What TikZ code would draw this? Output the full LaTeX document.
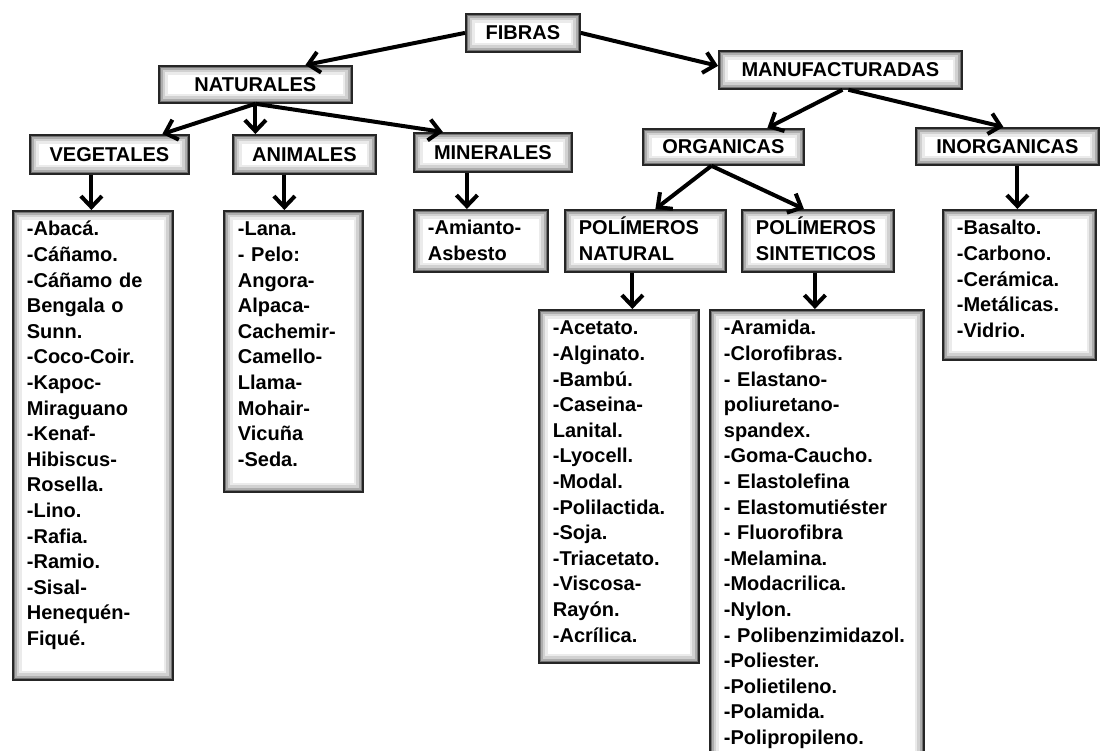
\documentclass[tikz,border=0pt]{standalone}
\usepackage{fontspec}
\setmainfont{Liberation Sans}
\usetikzlibrary{arrows.meta}

\tikzset{
  caja/.style={draw=black!85, line width=1.8pt, fill=white, anchor=north west, inner sep=0pt,
    path picture={
      \foreach \w/\gr in {18pt/8, 13pt/18, 8pt/32, 4pt/55}
        \draw[line width=\w, black!\gr] (path picture bounding box.south west) rectangle (path picture bounding box.north east);
    }},
  titulo/.style 2 args={caja, minimum width=#1, minimum height=#2},
  lista/.style 2 args={caja, align=left, inner xsep=14pt, inner ysep=0pt,
    text width=#1, text height=25pt, text depth=#2},
}

\begin{document}
\begin{tikzpicture}[x=1pt, y=-1pt,
    every node/.style={font=\fontsize{20}{25.6}\selectfont\bfseries},
    >={Straight Barb[length=11pt,width=21pt]},
    flecha/.style={->, line width=4pt, black}]
  \useasboundingbox (0,0) rectangle (1102,751);
  % primer nivel
  \node[titulo={114pt}{38pt}] (fibras) at (465,13) {FIBRAS};
  \node[titulo={193pt}{37pt}] (naturales) at (158,65) {NATURALES};
  \node[titulo={243pt}{38pt}] (manufacturadas) at (718,50) {MANUFACTURADAS};
  % segundo nivel
  \node[titulo={159pt}{39pt}] (vegetales) at (29,134) {VEGETALES};
  \node[titulo={143pt}{39pt}] (animales) at (232,134) {ANIMALES};
  \node[titulo={158pt}{39pt}] (minerales) at (413,132) {MINERALES};
  \node[titulo={161pt}{36pt}] (organicas) at (642,128) {ORGANICAS};
  \node[titulo={183pt}{37pt}] (inorganicas) at (915,127) {INORGANICAS};
  \node[lista={133pt}{37pt}] (polnat) at (564,209) {POLÍMEROS\\NATURAL};
  \node[lista={124pt}{37pt}] (polsin) at (741,209) {POLÍMEROS\\SINTETICOS};
  % listas
  \node[lista={132pt}{444pt}] (vegetalesL) at (12,210)
    {-Abacá.\\-Cáñamo.\\-Cáñamo de\\Bengala o\\Sunn.\\-Coco-Coir.\\-Kapoc-\\Miraguano\\-Kenaf-\\Hibiscus-\\Rosella.\\-Lino.\\-Rafia.\\-Ramio.\\-Sisal-\\Henequén-\\Fiqué.};
  \node[lista={111pt}{256pt}] (animalesL) at (223,210)
    {-Lana.\\- Pelo:\\Angora-\\Alpaca-\\Cachemir-\\Camello-\\Llama-\\Mohair-\\Vicuña\\-Seda.};
  \node[lista={106pt}{37pt}] (mineralesL) at (413,209) {-Amianto-\\Asbesto};
  \node[lista={132pt}{328pt}] (polnatL) at (538,309)
    {-Acetato.\\-Alginato.\\-Bambú.\\-Caseina-\\Lanital.\\-Lyocell.\\-Modal.\\-Polilactida.\\-Soja.\\-Triacetato.\\-Viscosa-\\Rayón.\\-Acrílica.};
  \node[lista={186pt}{445pt}] (polsinL) at (709,309)
    {-Aramida.\\-Clorofibras.\\- Elastano-\\poliuretano-\\spandex.\\-Goma-Caucho.\\- Elastolefina\\- Elastomutiéster\\- Fluorofibra\\-Melamina.\\-Modacrilica.\\-Nylon.\\- Polibenzimidazol.\\-Poliester.\\-Polietileno.\\-Polamida.\\-Polipropileno.};
  \node[lista={125pt}{125pt}] (inorganicasL) at (942,209)
    {-Basalto.\\-Carbono.\\-Cerámica.\\-Metálicas.\\-Vidrio.};
  % flechas
  \draw[flecha] (fibras.west) -- ([xshift=50pt]naturales.north);
  \draw[flecha] (fibras.east) -- ([yshift=4pt]manufacturadas.west);
  \draw[flecha] (naturales.south) -- ([xshift=53pt]vegetales.north);
  \draw[flecha] (naturales.south) -- (naturales.south |- animales.north);
  \draw[flecha] (naturales.south) -- ([xshift=-50pt]minerales.north);
  \draw[flecha] ([xshift=-18pt]vegetales.south) -- ([xshift=-18pt]vegetales.south |- vegetalesL.north);
  \draw[flecha] ([xshift=-20pt]animales.south) -- ([xshift=-20pt]animales.south |- animalesL.north);
  \draw[flecha] ([xshift=-26pt]minerales.south) -- ([xshift=-26pt]minerales.south |- mineralesL.north);
  \draw[flecha] ([xshift=2pt]manufacturadas.south) -- ([xshift=44pt]organicas.north);
  \draw[flecha] ([xshift=8pt]manufacturadas.south) -- ([xshift=-4pt]inorganicas.north);
  \draw[flecha] ([xshift=-12pt]organicas.south) -- ([xshift=10pt]polnat.north);
  \draw[flecha] ([xshift=-12pt]organicas.south) -- ([xshift=-14pt]polsin.north);
  \draw[flecha] ([xshift=-13pt]polnat.south) -- ([xshift=-13pt]polnat.south |- polnatL.north);
  \draw[flecha] ([xshift=-3pt]polsin.south) -- ([xshift=-3pt]polsin.south |- polsinL.north);
  \draw[flecha] ([xshift=10pt]inorganicas.south) -- ([xshift=10pt]inorganicas.south |- inorganicasL.north);
\end{tikzpicture}
\end{document}
